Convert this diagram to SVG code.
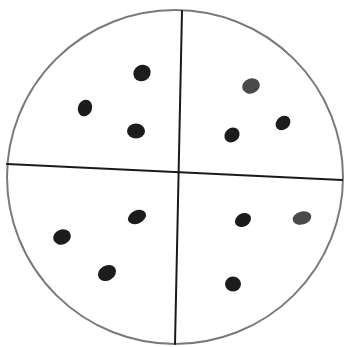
<svg xmlns="http://www.w3.org/2000/svg" width="346" height="347" viewBox="0 0 346 347">
<style>
.rim{fill:none;stroke:#7a7a7a;stroke-width:2}
.axis{fill:none;stroke:#1a1a1a;stroke-width:2;stroke-linecap:round}
.dot{fill:#1c1c1c}
.dotg{fill:#4a4a4a}
</style>
<rect width="346" height="347" fill="#ffffff"/>
<ellipse class="rim" cx="175" cy="177" rx="168" ry="167"/>
<g id="axes">
<path class="axis" d="M182 11 L175 344"/>
<path class="axis" d="M7 164 L342 180"/>
</g>
<g id="dots">
<ellipse class="dot" cx="142" cy="73" rx="9" ry="8" transform="rotate(-30 142 73)"/>
<ellipse class="dot" cx="85" cy="108" rx="7" ry="8.5" transform="rotate(20 85 108)"/>
<ellipse class="dot" cx="136" cy="131" rx="9" ry="7.5"/>
<ellipse class="dotg" cx="251" cy="86" rx="9" ry="7.5" transform="rotate(-20 251 86)"/>
<ellipse class="dot" cx="283" cy="123" rx="8" ry="6.5" transform="rotate(-40 283 123)"/>
<ellipse class="dot" cx="232" cy="135" rx="8" ry="7" transform="rotate(-40 232 135)"/>
<ellipse class="dot" cx="137" cy="217" rx="9.5" ry="6.5" transform="rotate(-25 137 217)"/>
<ellipse class="dot" cx="62" cy="237" rx="9" ry="7.5" transform="rotate(-20 62 237)"/>
<ellipse class="dot" cx="107" cy="273" rx="9.5" ry="7.5" transform="rotate(-30 107 273)"/>
<ellipse class="dot" cx="243" cy="220" rx="8.5" ry="6.5" transform="rotate(-30 243 220)"/>
<ellipse class="dotg" cx="302" cy="218" rx="9.5" ry="6.5" transform="rotate(-15 302 218)"/>
<ellipse class="dot" cx="233" cy="284" rx="8" ry="7.5"/>
</g>
</svg>
